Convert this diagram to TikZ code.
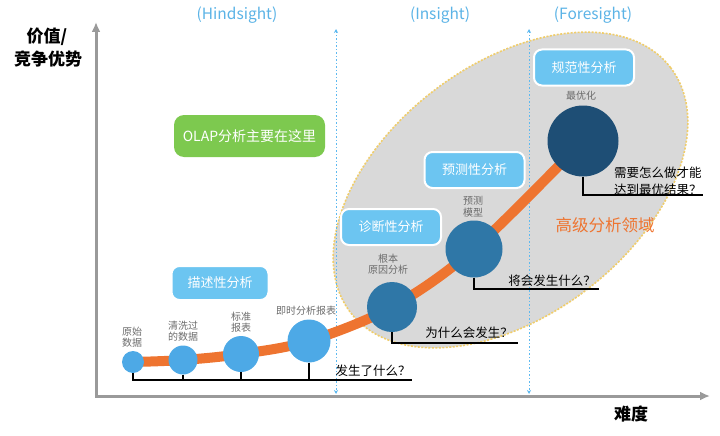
\documentclass[tikz,border=0pt]{standalone}
\usepackage{fontspec}
\setmainfont{Noto Sans CJK SC}
\usetikzlibrary{arrows.meta,shapes.geometric}
\definecolor{axisgray}{HTML}{9A9A9A}
\definecolor{ellgray}{HTML}{D9D9D9}
\definecolor{ellborder}{HTML}{F0CD6A}
\definecolor{skyline}{HTML}{5DB9F0}
\definecolor{headblue}{HTML}{5BB3E6}
\definecolor{boxblue}{HTML}{6CC5F1}
\definecolor{olapgreen}{HTML}{7DC94F}
\definecolor{lightcirc}{HTML}{4DA9E6}
\definecolor{midcirc}{HTML}{2F77A7}
\definecolor{darkcirc}{HTML}{1E4E75}
\definecolor{curveorange}{HTML}{EE7430}
\definecolor{labelgray}{HTML}{6B6B6B}
\tikzset{
  axisline/.style={draw=axisgray, line width=3pt},
  guideline/.style={draw=skyline, line width=0.9pt, dash pattern=on 1.5pt off 2pt,
     {Stealth[length=4pt,width=4pt]}-{Stealth[length=4pt,width=4pt]}},
  header/.style={text=headblue, font=\fontsize{15.5}{17}\selectfont},
  bluebox/.style={fill=boxblue, draw=white, line width=2pt, rounded corners=8pt,
     text=white, font=\fontsize{13}{15}\selectfont, minimum width=100pt, minimum height=36pt, inner sep=0pt},
  circ/.style={circle, inner sep=0pt},
  lcirc/.style={circ, fill=lightcirc},
  mcirc/.style={circ, fill=midcirc},
  dcirc/.style={circ, fill=darkcirc},
  smalllabel/.style={text=labelgray, align=center, font=\fontsize{10}{11.5}\selectfont, inner sep=0pt},
  question/.style={text=black, font=\fontsize{12.5}{17}\selectfont, inner sep=0pt},
  bracket/.style={draw=black, line width=1.4pt},
  curve/.style={draw=curveorange, line width=10pt},
  axislabel/.style={text=black, font=\bfseries\fontsize{17}{19}\selectfont, inner sep=0pt}
}
\begin{document}
\begin{tikzpicture}[x=1pt,y=-1pt]
\useasboundingbox (0,0) rectangle (720,436);
% advanced region ellipse
\node[ellipse, fill=ellgray, draw=ellborder, line width=1.6pt, dash pattern=on 2pt off 1.5pt,
      minimum width=403pt, minimum height=251pt, rotate=37.4] (adv) at (510.5,190) {};
% axes
\coordinate (O) at (96,396);
\coordinate (Ytop) at (96,22);
\coordinate (Xend) at (710,396);
\draw[axisline, {Latex[length=10pt,width=9pt]}-{Latex[length=10pt,width=9pt]}] (Ytop) -- (O) -- (Xend);
\node[axislabel] (ylab1) at (47,37) {价值/};
\node[axislabel] (ylab2) at (48,59) {竞争优势};
\node[axislabel] (xlab) at (631,414) {难度};
% guide lines
\coordinate (g1t) at (336,29);
\coordinate (g1b) at (336,394);
\coordinate (g2t) at (529,29);
\coordinate (g2b) at (529,394);
\draw[guideline] (g1t) -- (g1b);
\draw[guideline] (g2t) -- (g2b);
% headers
\node[header] (h1) at (237,15) {(Hindsight)};
\node[header] (h2) at (440,15) {(Insight)};
\node[header] (h3) at (593,15) {(Foresight)};
% circle positions
\coordinate (p1) at (133,362);
\coordinate (p2) at (183,360);
\coordinate (p3) at (241,354);
\coordinate (p4) at (309,341);
\coordinate (p5) at (392,307);
\coordinate (p6) at (474,249);
\coordinate (p7) at (583,141);
% orange curve
\draw[curve] plot[smooth, tension=0.55] coordinates {(p1) (p2) (p3) (p4) (p5) (p6) (p7)};
% circles
\node[lcirc, minimum size=22pt] (c1) at (p1) {};
\node[lcirc, minimum size=29pt] (c2) at (p2) {};
\node[lcirc, minimum size=36pt] (c3) at (p3) {};
\node[lcirc, minimum size=43pt] (c4) at (p4) {};
\node[mcirc, minimum size=50pt] (c5) at (p5) {};
\node[mcirc, minimum size=57pt] (c6) at (p6) {};
\node[dcirc, minimum size=71pt] (c7) at (p7) {};
% circle labels
\node[smalllabel] (l1) at (132,337) {原始\\数据};
\node[smalllabel] (l2) at (183,331) {清洗过\\的数据};
\node[smalllabel] (l3) at (241,322) {标准\\报表};
\node[smalllabel] (l4) at (306,311) {即时分析报表};
\node[smalllabel] (l5) at (388,264) {根本\\原因分析};
\node[smalllabel] (l6) at (473,207) {预测\\模型};
\node[smalllabel] (l7) at (581,96) {最优化};
% boxes
\node[bluebox, minimum width=97pt, minimum height=34pt] (b1) at (220,283) {描述性分析};
\node[bluebox] (b2) at (391,227) {诊断性分析};
\node[bluebox] (b3) at (474.5,170) {预测性分析};
\node[bluebox] (b4) at (584,67.5) {规范性分析};
\node[fill=olapgreen, rounded corners=10pt, text=white, font=\fontsize{14}{16}\selectfont,
      minimum width=151pt, minimum height=42pt, inner sep=0pt] (olap) at (249.5,136) {OLAP分析主要在这里};
\node[text=curveorange, font=\fontsize{16.5}{18}\selectfont, inner sep=0pt] (advlab) at (605,225) {高级分析领域};
% brackets
\coordinate (hend) at (412,380);
\draw[bracket] (c1.south) |- (hend);
\draw[bracket] (c2.south) -- (c2.south |- hend);
\draw[bracket] (c3.south) -- (c3.south |- hend);
\draw[bracket] (c4.south) -- (c4.south |- hend);
\coordinate (q2end) at (518,343);
\draw[bracket] (c5.south) |- (q2end);
\coordinate (q3end) at (599,289);
\draw[bracket] (c6.south) |- (q3end);
\coordinate (q4end) at (703,195);
\draw[bracket] (c7.south) |- (q4end);
% questions
\node[question] (q1) at (373,371) {发生了什么？};
\node[question] (q2) at (469,333) {为什么会发生？};
\node[question] (q3) at (552,281) {将会发生什么？};
\node[question, align=left, anchor=west] (q4) at (614,181) {需要怎么做才能\\达到最优结果？};
\end{tikzpicture}
\end{document}
